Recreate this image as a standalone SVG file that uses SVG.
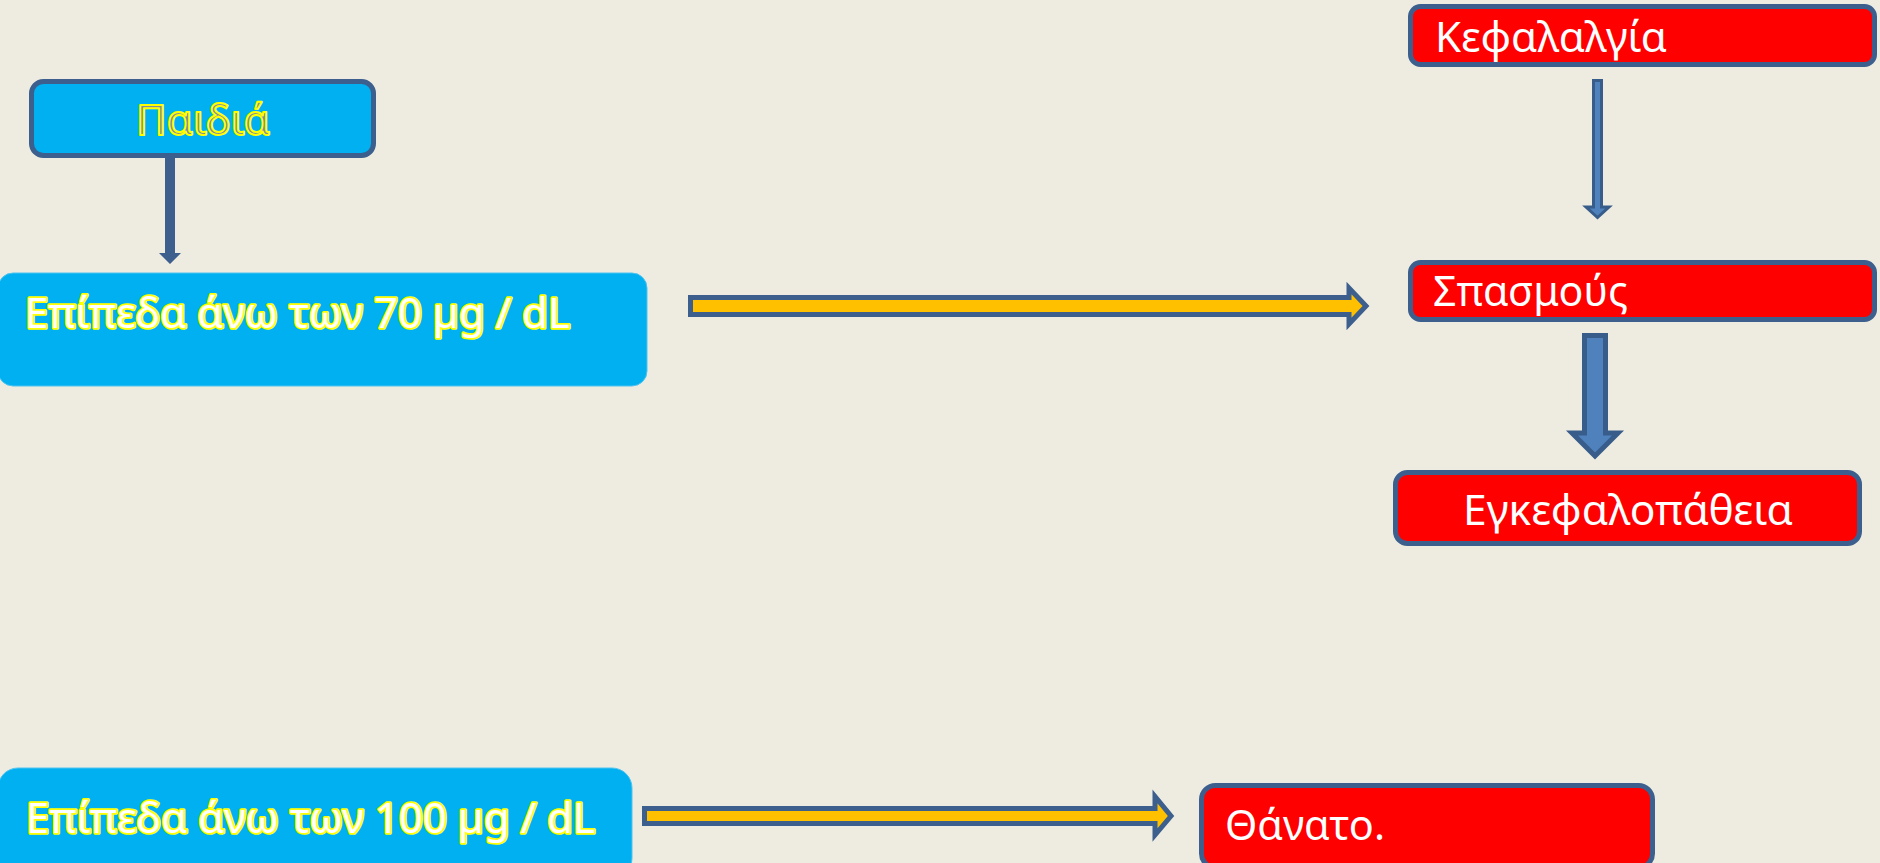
<svg xmlns="http://www.w3.org/2000/svg" width="1880" height="863" viewBox="0 0 1880 863">
<style>
.bg{fill:#eeece1}
.blue{fill:#00b0f0}
.blueb{fill:#00b0f0;stroke:#3c5f8d;stroke-width:5}
.red{fill:#ff0000;stroke:#3c5f8d;stroke-width:5}
.t{font-family:"Noto Sans","Open Sans","DejaVu Sans",sans-serif;font-size:42px}
.wt{fill:#ffffff}
.ol{fill:#ffffff;stroke:#ffff00;stroke-width:3.5;paint-order:stroke;stroke-linejoin:round}
.hol{fill:#7f8a9e;stroke:#ffff00;stroke-width:2;stroke-linejoin:round}
.yarr{fill:#ffc000;stroke:#3c5f8d;stroke-width:5;stroke-linejoin:miter}
.barr{fill:#4f81bd;stroke:#385d8a;stroke-width:3}
.darr{fill:#3c5f8d}
</style>
<rect class="bg" x="0" y="0" width="1880" height="863"/>

<g id="node-paidia">
<rect class="blueb" x="31.5" y="81.5" width="342" height="74" rx="12"/>
<text class="t hol" x="203" y="135" text-anchor="middle" textLength="134" lengthAdjust="spacingAndGlyphs">Παιδιά</text>
</g>

<g id="node-70">
<rect class="blue" x="-2" y="273" width="649" height="113" rx="15" stroke="#4fc3f0" stroke-width="1"/>
<text class="t ol" x="25" y="328" textLength="545" lengthAdjust="spacingAndGlyphs">Επίπεδα άνω των 70 µg / dL</text>
</g>

<g id="node-100">
<rect class="blue" x="-2" y="768" width="634" height="110" rx="20" stroke="#4fc3f0" stroke-width="1"/>
<text class="t ol" x="26" y="833" textLength="569" lengthAdjust="spacingAndGlyphs">Επίπεδα άνω των 100 µg / dL</text>
</g>

<g id="node-kefalalgia">
<rect class="red" x="1410.5" y="6.5" width="464" height="58" rx="10"/>
<text class="t wt" x="1435" y="52" font-size="40" textLength="232" lengthAdjust="spacingAndGlyphs">Κεφαλαλγία</text>
</g>

<g id="node-spasmous">
<rect class="red" x="1410.5" y="262.5" width="464" height="57" rx="10"/>
<text class="t wt" x="1433" y="306" font-size="40" textLength="195" lengthAdjust="spacingAndGlyphs">Σπασμούς</text>
</g>

<g id="node-egkefalopatheia">
<rect class="red" x="1395.5" y="472.5" width="464" height="71" rx="12"/>
<text class="t wt" x="1463" y="525" textLength="330" lengthAdjust="spacingAndGlyphs">Εγκεφαλοπάθεια</text>
</g>

<g id="node-thanato">
<rect class="red" x="1201.5" y="785.5" width="451" height="82" rx="14"/>
<text class="t wt" x="1225" y="840" textLength="160" lengthAdjust="spacingAndGlyphs">Θάνατο.</text>
</g>

<g id="connectors">
<polygon class="darr" points="165,158 175,158 175,253 181,253 170,264 159,253 165,253"/>
<polygon class="yarr" points="690.5,297.5 1349,297.5 1349,288 1366,306 1349,324 1349,314.5 690.5,314.5"/>
<polygon class="yarr" points="644.5,808.5 1155,808.5 1155,796.5 1171,816 1155,835 1155,823.5 644.5,823.5"/>
<polygon class="barr" points="1593.5,80.5 1601.5,80.5 1601.5,207 1609,207 1597.5,217.5 1586,207 1593.5,207"/>
<polygon class="barr" style="stroke-width:5" points="1584.5,335.5 1605.5,335.5 1605.5,433 1618,433 1595,456 1572,433 1584.5,433"/>
</g>
</svg>
